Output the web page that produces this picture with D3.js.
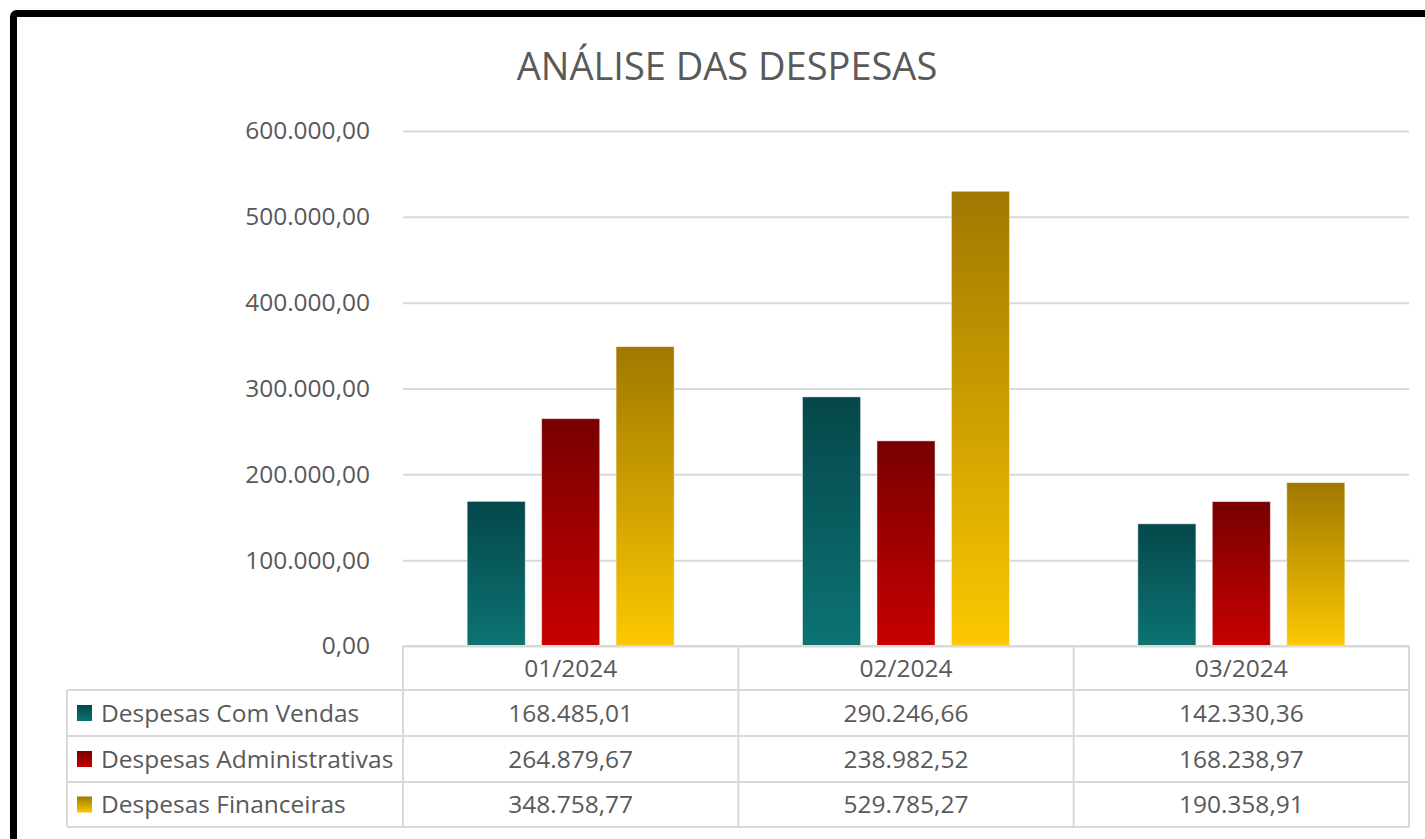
<!DOCTYPE html>
<html>
<head>
<meta charset="utf-8">
<script src="https://cdn.jsdelivr.net/npm/d3@7"></script>
<style>
  html, body { margin: 0; padding: 0; background: #fff; }
  svg { display: block; }
</style>
</head>
<body>
<div id="chart"></div>
<script>
// Dados do gráfico
const categories = ['01/2024', '02/2024', '03/2024'];
const seriesNames = ['Despesas Com Vendas', 'Despesas Administrativas', 'Despesas Financeiras'];
const vendas = [168485.01, 290246.66, 142330.36];
const administrativas = [264879.67, 238982.52, 168238.97];
const financeiras = [348758.77, 529785.27, 190358.91];
const yTicks = [0, 100000, 200000, 300000, 400000, 500000, 600000];

const seriesValues = [vendas, administrativas, financeiras];
const gradStops = [
  ['#05474A', '#0C7373'],
  ['#780000', '#C80000'],
  ['#A07800', '#FCC800']
];

const W = 1425, H = 839;
const FONT = 'Open Sans, Lato, sans-serif';
const FS = 24.5;
const TXT = '#595959';
const GRID = '#d9d9d9';

const svg = d3.select('#chart').append('svg')
  .attr('width', W).attr('height', H);

const defs = svg.append('defs');
gradStops.forEach((g, i) => {
  const lg = defs.append('linearGradient')
    .attr('id', 'grad' + i)
    .attr('x1', 0).attr('y1', 0).attr('x2', 0).attr('y2', 1);
  lg.append('stop').attr('offset', '0%').attr('stop-color', g[0]);
  lg.append('stop').attr('offset', '100%').attr('stop-color', g[1]);
});

// moldura preta
svg.append('rect')
  .attr('x', 13.5).attr('y', 13.5)
  .attr('width', 1600).attr('height', 1000)
  .attr('rx', 3)
  .attr('fill', 'none').attr('stroke', '#000').attr('stroke-width', 7);

// título
svg.append('text')
  .attr('x', 727).attr('y', 80)
  .attr('text-anchor', 'middle')
  .attr('font-family', FONT).attr('font-size', 38)
  .attr('fill', TXT)
  .text('ANÁLISE DAS DESPESAS');

const plotLeft = 403, plotRight = 1409;
const yScale = d3.scaleLinear().domain([0, 600000]).range([646, 131]);
const x0 = d3.scaleBand().domain(categories).range([plotLeft, plotRight]);
const bw = x0.bandwidth();
const groupW = 207;
const x1 = d3.scaleBand().domain(seriesNames)
  .range([(bw - groupW) / 2, (bw + groupW) / 2])
  .paddingInner(0.22);

const fmt = d3.formatLocale({ decimal: ',', thousands: '.', grouping: [3], currency: ['R$', ''] }).format(',.2f');

// grade e eixo
const yAxis = svg.append('g')
  .attr('transform', `translate(${plotLeft},0)`)
  .call(d3.axisLeft(yScale).tickValues(yTicks).tickSize(-(plotRight - plotLeft)).tickPadding(33).tickFormat(fmt));
yAxis.select('.domain').remove();
yAxis.selectAll('.tick line').attr('stroke', GRID).attr('stroke-width', 2);
yAxis.selectAll('.tick text')
  .attr('font-family', FONT).attr('font-size', FS).attr('fill', TXT);

// barras
categories.forEach((c, ci) => {
  const g = svg.append('g').attr('transform', `translate(${x0(c)},0)`);
  seriesNames.forEach((s, si) => {
    const v = seriesValues[si][ci];
    g.append('rect')
      .attr('x', x1(s))
      .attr('y', yScale(v))
      .attr('width', x1.bandwidth())
      .attr('height', yScale(0) - yScale(v))
      .attr('fill', `url(#grad${si})`)
      .attr('stroke', 'rgba(255,255,255,0.45)')
      .attr('stroke-width', 1);
  });
});

// tabela de dados
const rowEdges = [646, 690, 736, 782, 827];
const legendLeft = 67;
const tbl = svg.append('g').attr('stroke', GRID).attr('stroke-width', 2).attr('fill', 'none');
// linha do cabeçalho (só na área do gráfico)
tbl.append('line').attr('x1', plotLeft).attr('x2', plotRight).attr('y1', rowEdges[0]).attr('y2', rowEdges[0]);
rowEdges.slice(1).forEach(y => {
  tbl.append('line').attr('x1', legendLeft).attr('x2', plotRight).attr('y1', y).attr('y2', y);
});
// verticais
tbl.append('line').attr('x1', legendLeft).attr('x2', legendLeft).attr('y1', rowEdges[1]).attr('y2', rowEdges[4]);
categories.forEach(c => {
  tbl.append('line').attr('x1', x0(c)).attr('x2', x0(c)).attr('y1', rowEdges[0]).attr('y2', rowEdges[4]);
});
tbl.append('line').attr('x1', plotRight).attr('x2', plotRight).attr('y1', rowEdges[0]).attr('y2', rowEdges[4]);

const rowMid = i => (rowEdges[i] + rowEdges[i + 1]) / 2;

categories.forEach(c => {
  svg.append('text')
    .attr('x', x0(c) + bw / 2).attr('y', rowMid(0))
    .attr('dy', '0.35em').attr('text-anchor', 'middle')
    .attr('font-family', FONT).attr('font-size', FS).attr('fill', TXT)
    .text(c);
});

seriesNames.forEach((s, si) => {
  const ym = rowMid(si + 1);
  svg.append('rect')
    .attr('x', 77).attr('y', ym - 8)
    .attr('width', 15).attr('height', 16)
    .attr('fill', `url(#grad${si})`);
  svg.append('text')
    .attr('x', 101).attr('y', ym)
    .attr('dy', '0.35em')
    .attr('font-family', FONT).attr('font-size', FS).attr('fill', TXT)
    .text(s);
  categories.forEach((c, ci) => {
    svg.append('text')
      .attr('x', x0(c) + bw / 2).attr('y', ym)
      .attr('dy', '0.35em').attr('text-anchor', 'middle')
      .attr('font-family', FONT).attr('font-size', FS).attr('fill', TXT)
      .text(fmt(seriesValues[si][ci]));
  });
});
</script>
</body>
</html>
